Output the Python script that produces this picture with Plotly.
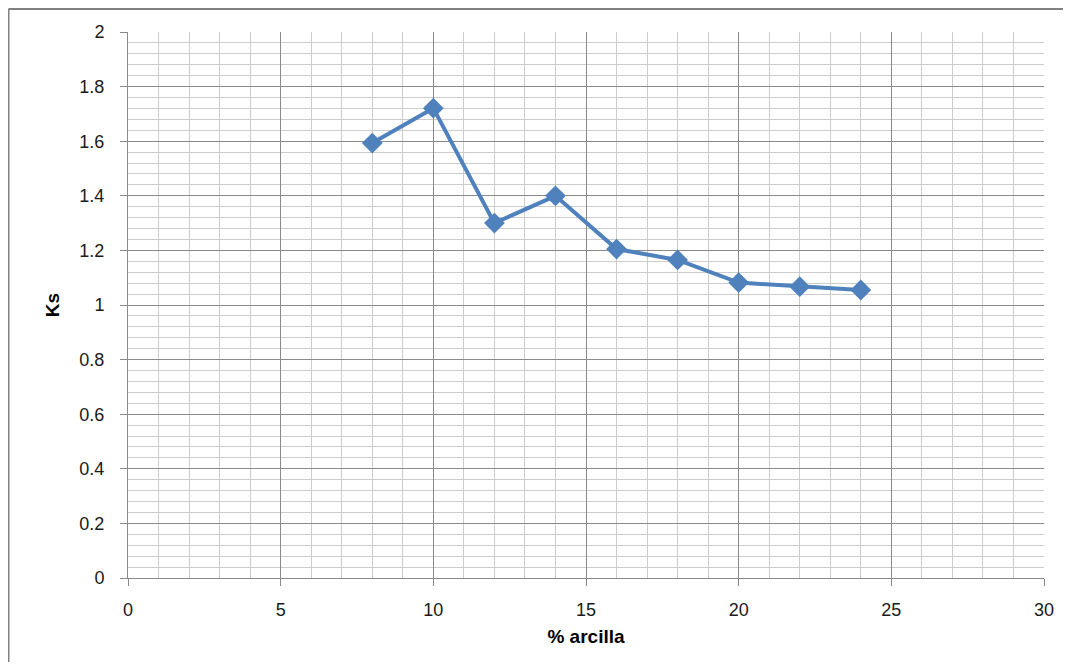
import plotly.graph_objects as go

arcilla = [8, 10, 12, 14, 16, 18, 20, 22, 24]
ks = [1.593, 1.721, 1.300, 1.400, 1.205, 1.165, 1.082, 1.067, 1.055]

# page has an 8px body margin; figure is sized/offset accordingly
W, H = 1055, 654
L, R, T, B = 120, 19, 24, 84

FAM = "Liberation Sans, Arial, sans-serif"

fig = go.Figure()
fig.add_trace(go.Scatter(
    x=arcilla, y=ks, mode="lines+markers",
    line=dict(color="#4F81BD", width=4),
    marker=dict(symbol="diamond", size=16, color="#4F81BD"),
    showlegend=False,
))

tickfont = dict(family=FAM, size=18, color="#1a1a1a")

fig.update_xaxes(
    range=[0, 30], tickvals=[0, 5, 10, 15, 20, 25, 30],
    showgrid=True, gridcolor="#8a8a8a", gridwidth=1,
    minor=dict(dtick=1, showgrid=True, gridcolor="#cccccc", gridwidth=1),
    ticks="outside", ticklen=7, tickcolor="#8a8a8a",
    showline=True, linecolor="#8a8a8a", linewidth=1,
    zeroline=False, tickfont=tickfont, ticklabelstandoff=8,
    ticklabeloverflow="allow", automargin=False,
    title=dict(text="<b>% arcilla</b>", font=dict(family=FAM, size=19, color="#000000"), standoff=11),
)
fig.update_yaxes(
    range=[0, 2], tickvals=[0, 0.2, 0.4, 0.6, 0.8, 1, 1.2, 1.4, 1.6, 1.8, 2],
    ticktext=["0", "0.2", "0.4", "0.6", "0.8", "1", "1.2", "1.4", "1.6", "1.8", "2"],
    showgrid=True, gridcolor="#8a8a8a", gridwidth=1,
    minor=dict(dtick=0.04, showgrid=True, gridcolor="#cccccc", gridwidth=1),
    ticks="outside", ticklen=7, tickcolor="#8a8a8a",
    showline=True, linecolor="#8a8a8a", linewidth=1,
    zeroline=False, tickfont=tickfont, ticklabelstandoff=12,
    automargin=False,
    title=dict(text="<b>Ks</b>", font=dict(family=FAM, size=19, color="#000000"), standoff=14),
)

pw, ph = W - L - R, H - T - B
x_left = -L / pw + 0.5 / pw
y_top = 1 + T / ph - 1 / ph
fig.add_shape(type="line", xref="paper", yref="paper",
              x0=x_left, x1=x_left, y0=-B / ph, y1=y_top,
              line=dict(color="#808080", width=2), layer="below")
fig.add_shape(type="line", xref="paper", yref="paper",
              x0=x_left, x1=1 + R / pw, y0=y_top, y1=y_top,
              line=dict(color="#808080", width=2), layer="below")

fig.update_layout(
    width=W, height=H,
    margin=dict(l=L, r=R, t=T, b=B),
    plot_bgcolor="white", paper_bgcolor="white",
)

fig.write_html("out.html")
